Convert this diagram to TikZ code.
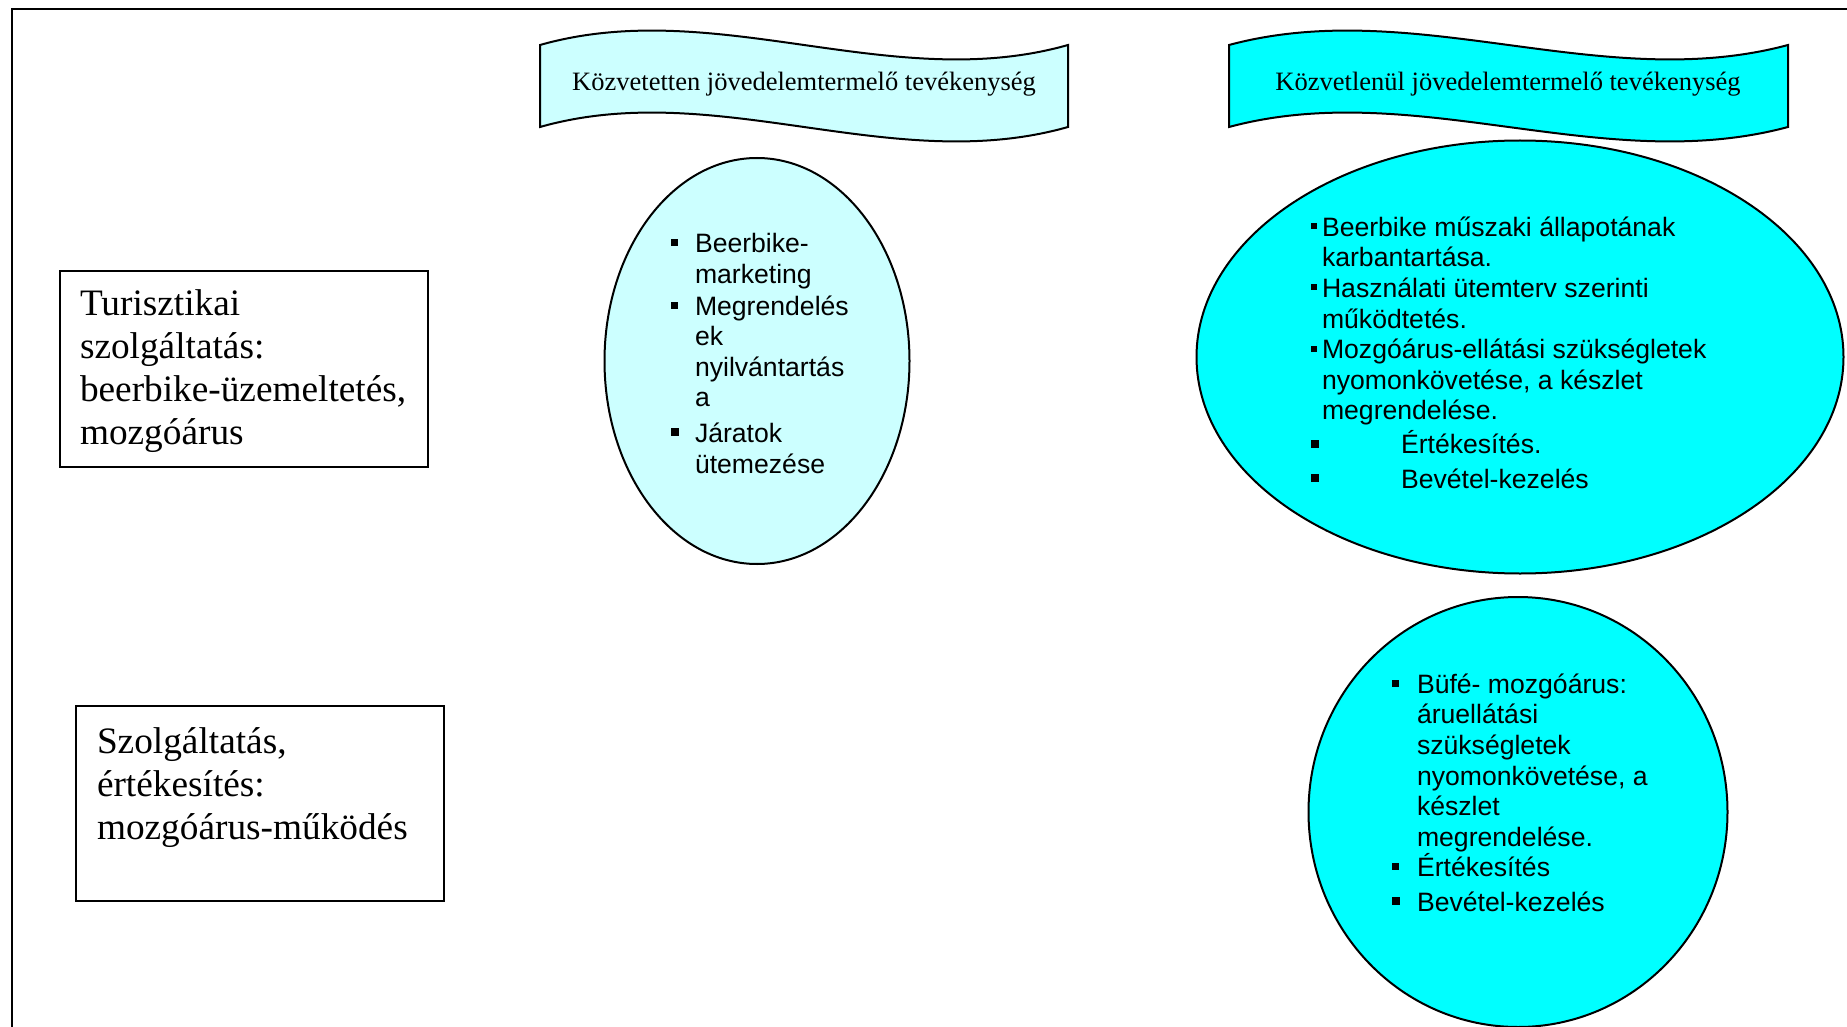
\documentclass[tikz,border=0pt]{standalone}
\usepackage{fontspec}
\setmainfont{Liberation Serif}
\setsansfont{Liberation Sans}
\usetikzlibrary{positioning,shapes}
\definecolor{paleaqua}{RGB}{204,255,255}
\definecolor{aqua}{RGB}{0,255,255}
\newcommand{\sqsmall}{\rule[7pt]{6pt}{6pt}}
\newcommand{\sqmid}{\rule[6.5pt]{7pt}{7pt}}
\newcommand{\sqbig}{\rule[6pt]{8pt}{8pt}}
\newcommand{\sqitem}[2]{\makebox[#1][l]{#2}}
\newcommand{\sqindent}[1]{\hspace*{#1}}

\begin{document}
\begin{tikzpicture}[x=1pt, y=-1pt,
      every node/.style={inner sep=0pt, outer sep=0pt},
      frame/.style={line width=2.5pt},
      box/.style={draw, line width=2pt, anchor=north west},
      boxtext/.style={anchor=base west, align=left, font=\fontsize{37.3}{42.8}\selectfont},
      blob/.style={draw, ellipse, line width=2pt},
      blobtext/.style={anchor=base west, align=left, font=\sffamily\fontsize{26.6}{30.6}\selectfont},
      banner/.style={draw, line width=2pt},
      bannertext/.style={anchor=base, font=\fontsize{26.5}{30}\selectfont}]
  %.
  \useasboundingbox (0,0) rectangle (1847,1027);
  \draw[frame] (12,1100) -- (12,9) -- (1900,9);
  %.
  % banners
  \draw[banner, fill=paleaqua] (540,45) .. controls (716,-5) and (892,95) .. (1068,45)
      -- (1068,127) .. controls (892,177) and (716,77) .. (540,127) -- cycle;
  \node[bannertext] (indirectlabel) at (804,91) {Közvetetten jövedelemtermelő tevékenység};
  \draw[banner, fill=aqua] (1229,45) .. controls (1415,-5) and (1602,95) .. (1788,45)
      -- (1788,127) .. controls (1602,177) and (1415,77) .. (1229,127) -- cycle;
  \node[bannertext] (directlabel) at (1508,91) {Közvetlenül jövedelemtermelő tevékenység};
  %.
  % boxes (text nodes sit on their last line)
  \node[box, minimum width=368pt, minimum height=196pt] (tourism) at (60,271) {};
  \node[boxtext] (tourismtext) at (80,444) {Turisztikai\\szolgáltatás:\\beerbike-üzemeltetés,\\mozgóárus};
  \node[box, minimum width=368pt, minimum height=195pt] (service) at (76,706) {};
  \node[boxtext] (servicetext) at (97,839) {Szolgáltatás,\\értékesítés:\\mozgóárus-működés};
  %.
  % ellipses
  \node[blob, fill=paleaqua, minimum width=305pt, minimum height=406pt] (indirect) at (757,361) {};
  \node[blobtext] (indirecttext) at (671,473) {\sqitem{24pt}{\sqmid}Beerbike-\\
      \sqindent{24pt}marketing\\[1pt]
      \sqitem{24pt}{\sqmid}Megrendelés\\
      \sqindent{24pt}ek\\
      \sqindent{24pt}nyilvántartás\\
      \sqindent{24pt}a\\[5pt]
      \sqitem{24pt}{\sqbig}Járatok\\
      \sqindent{24pt}ütemezése};
  \node[blob, fill=aqua, minimum width=647pt, minimum height=433pt] (direct) at (1520,357) {};
  \node[blobtext] (directtext) at (1311,488) {\sqitem{11pt}{\sqsmall}Beerbike műszaki állapotának\\
      \sqindent{11pt}karbantartása.\\
      \sqitem{11pt}{\sqsmall}Használati ütemterv szerinti\\
      \sqindent{11pt}működtetés.\\
      \sqitem{11pt}{\sqsmall}Mozgóárus-ellátási szükségletek\\
      \sqindent{11pt}nyomonkövetése, a készlet\\
      \sqindent{11pt}megrendelése.\\[3.5pt]
      \sqitem{90pt}{\sqbig}Értékesítés.\\[3.5pt]
      \sqitem{90pt}{\sqbig}Bevétel-kezelés};
  \node[blob, fill=aqua, minimum width=419pt, minimum height=430pt] (buffet) at (1518,812) {};
  \node[blobtext] (buffettext) at (1392,911) {\sqitem{25pt}{\sqmid}Büfé- mozgóárus:\\
      \sqindent{25pt}áruellátási\\
      \sqindent{25pt}szükségletek\\
      \sqindent{25pt}nyomonkövetése, a\\
      \sqindent{25pt}készlet\\
      \sqindent{25pt}megrendelése.\\
      \sqitem{25pt}{\sqmid}Értékesítés\\[3.5pt]
      \sqitem{25pt}{\sqbig}Bevétel-kezelés};
  %.
\end{tikzpicture}
\end{document}
